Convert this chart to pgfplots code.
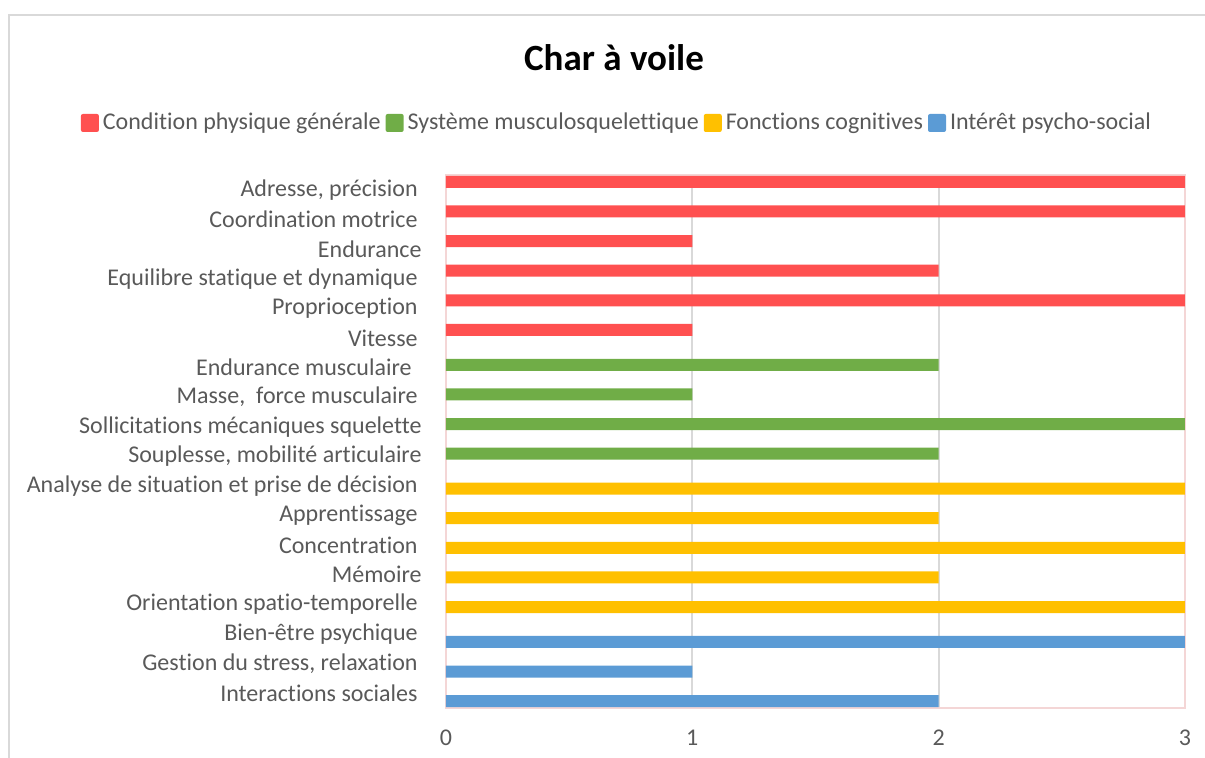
\documentclass[border=0pt]{standalone}
\usepackage{pgfplots}
\pgfplotsset{compat=1.18}
\usepackage{fontspec}
\setmainfont[Renderer=AAT,RawFeature={}]{Carlito}
\setmainfont[RawFeature={-liga;-clig;-dlig;-calt;-rlig;-hlig}]{Carlito}
\newcommand{\ti}{t\kern0pt i}
\definecolor{cRed}{HTML}{FF5050}
\definecolor{cGreen}{HTML}{70AD47}
\definecolor{cYellow}{HTML}{FFC000}
\definecolor{cBlue}{HTML}{5B9BD5}
\definecolor{txt}{HTML}{595959}
\definecolor{gridc}{HTML}{D9D9D9}
\definecolor{pinkb}{HTML}{F4D6D6}
\pgfplotsset{sq legend/.style={legend image code/.code={\fill[##1, rounded corners=1pt] (0pt,-4.5pt) rectangle (9pt,4.5pt);}}}
\begin{document}
\begin{tikzpicture}[x=1pt,y=1pt]
\begin{axis}[
  at={(0,0)}, anchor=south west,
  scale only axis, width=369.5pt, height=266.5pt,
  xmin=0, xmax=3, ymin=-0.5, ymax=17.5, y dir=reverse,
  xbar, bar width=6pt, bar shift=0pt,
  xtick={0,1,2,3}, xticklabels={0,1,2,3},
  ytick={0,...,17},
  yticklabels={{Adresse, précision\hspace*{2pt}},{Coordina\ti on motrice\hspace*{2pt}},{Endurance},{Equilibre statique et dynamique\hspace*{2pt}},{Propriocep\ti on\hspace*{2pt}},{Vitesse\hspace*{2pt}},{Endurance musculaire\hspace*{5pt}},{Masse,\ \ force musculaire\hspace*{2pt}},{Sollicita\ti ons mécaniques squelette},{Souplesse, mobilité ar\ti culaire},{Analyse de situa\ti on et prise de décision\hspace*{2pt}},{Appren\ti ssage\hspace*{2pt}},{Concentra\ti on\hspace*{2pt}},{Mémoire},{Orienta\ti on spa\ti o-temporelle\hspace*{2pt}},{Bien-être psychique\hspace*{2pt}},{Ges\ti on du stress, relaxa\ti on\hspace*{2pt}},{Interac\ti ons sociales\hspace*{2pt}}},
  major tick length=0pt,
  tick label style={font=\fontsize{12}{14}\selectfont, text=txt},
  yticklabel style={anchor=east, inner sep=0pt, xshift=-12pt},
  xticklabel style={anchor=center, inner sep=0pt, yshift=-15pt},
  xmajorgrids, grid style={draw=gridc, line width=1pt},
  axis line style={draw=pinkb, line width=1pt},
  legend style={at={(0.2300,1.0976)}, anchor=center, legend columns=4, draw=none, fill=none,
    inner sep=0pt, outer sep=0pt, font=\fontsize{12}{14}\selectfont, text=txt,
    nodes={inner sep=0pt},
    /tikz/every odd column/.append style={column sep=2pt},
    /tikz/every even column/.append style={column sep=2.5pt}},
  legend cell align=left,
]
\addplot[fill=cRed, draw=none, sq legend] coordinates {(3,-0.27) (3,0.73) (1,1.73) (2,2.73) (3,3.73) (1,4.73)};
\addlegendentry{Condi\ti on physique générale}
\addplot[fill=cGreen, draw=none, sq legend] coordinates {(2,5.91) (1,6.91) (3,7.91) (2,8.91)};
\addlegendentry{Système musculosquelet\ti que}
\addplot[fill=cYellow, draw=none, sq legend] coordinates {(3,10.09) (2,11.09) (3,12.09) (2,13.09) (3,14.09)};
\addlegendentry{Fonc\ti ons cogni\ti ves}
\addplot[fill=cBlue, draw=none, sq legend] coordinates {(3,15.27) (1,16.27) (2,17.27)};
\addlegendentry{Intérêt psycho-social}
\end{axis}
\node[font=\bfseries\fontsize{18.5}{22}\selectfont, text=black] at (84,325) {Char à voile};
\draw[gridc, line width=1pt] (-218.5,-25) -- (-218.5,346.5) -- (379.5,346.5);
\pgfresetboundingbox
\path[use as bounding box] (-223,-25) rectangle (379.5,354);
\end{tikzpicture}
\end{document}
